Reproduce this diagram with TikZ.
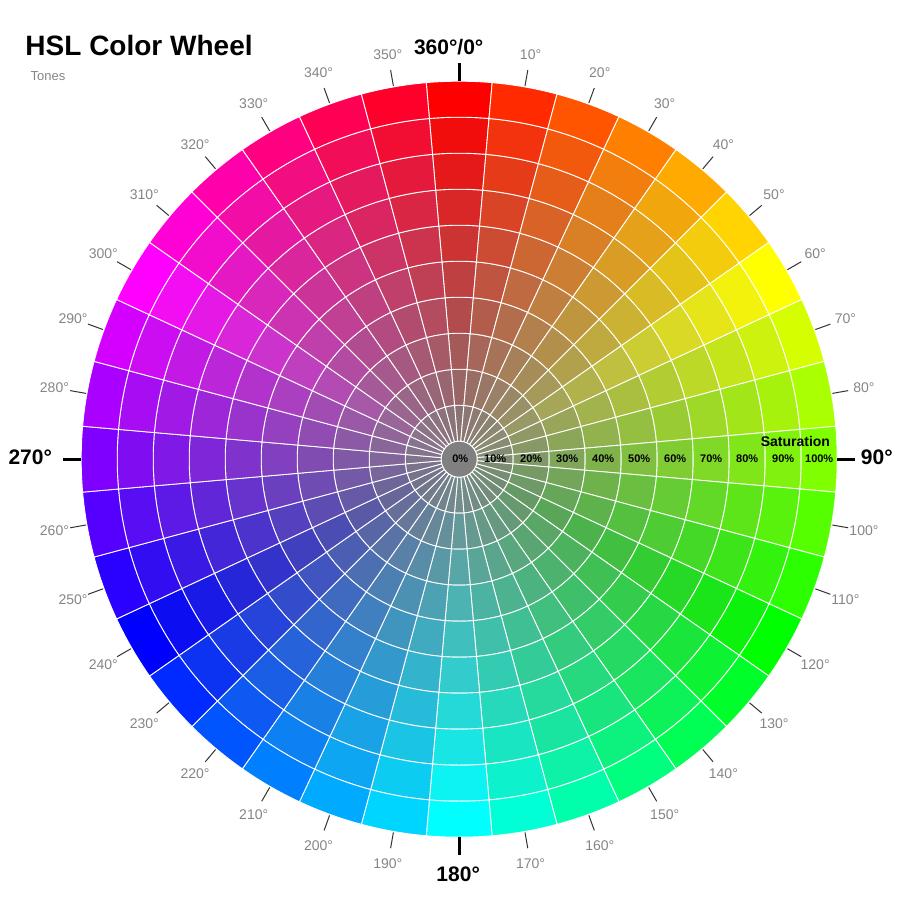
\documentclass[tikz,border=0pt]{standalone}
\usepackage{fontspec}
\setmainfont{Liberation Sans}
\usetikzlibrary{positioning}

\definecolor{labelgray}{HTML}{858585}
\definecolor{tickgray}{HTML}{333333}

\begin{document}
\begin{tikzpicture}[
  x=1pt, y=1pt,
  cell/.style={draw=white, line width=0.9pt},
  tickmark/.style={draw=tickgray, line width=1pt},
  bigtick/.style={draw=black, line width=3pt},
  deg/.style={inner sep=0pt, text=labelgray, font=\fontsize{14}{14}\selectfont},
  maindeg/.style={inner sep=0pt, font=\fontsize{21}{21}\selectfont\bfseries},
  pct/.style={inner sep=0pt, font=\fontsize{11}{11}\selectfont\bfseries},
]
  \useasboundingbox (-459.2,-443.8) rectangle (455.8,459.2);

  % sectors: hue clockwise from the top, saturation outwards
  \foreach \h in {0,10,...,350}{
    \pgfmathsetmacro\hh{\h/360}
    \pgfmathsetmacro\a{90-\h}
    \definecolor{huefull}{hsb}{\hh,1,1}
    \colorlet{huergb}[rgb]{huefull}
    \foreach \k in {1,...,10}{
      \pgfmathsetmacro\ri{18+36*(\k-1)}
      \pgfmathsetmacro\ro{18+36*\k}
      \pgfmathtruncatemacro\s{10*\k}
      \filldraw[cell, fill=huergb!\s!gray]
        ({\a-5}:\ri) arc[start angle={\a-5}, end angle={\a+5}, radius=\ri]
        -- ({\a+5}:\ro) arc[start angle={\a+5}, end angle={\a-5}, radius=\ro]
        -- cycle;
    }
  }
  \filldraw[cell, fill=gray] (0,0) circle[radius=18];

  % ticks and hue labels
  \foreach \h in {10,20,...,80,100,110,...,170,190,200,...,260,280,290,...,350}{
    \pgfmathsetmacro\a{90-\h}
    \coordinate (ti\h) at (\a:379);
    \coordinate (to\h) at (\a:395);
    \draw[tickmark] (ti\h) -- (to\h);
    \node[deg] (d\h) at (\a:411) {\h°};
  }
  \foreach \h in {0,90,180,270}{
    \pgfmathsetmacro\a{90-\h}
    \coordinate (ti\h) at (\a:378);
    \coordinate (to\h) at (\a:396);
    \draw[bigtick] (ti\h) -- (to\h);
  }
  \node[maindeg, anchor=south] (d0) at (-10.5,404) {360°/0°};
  \node[maindeg, anchor=west] (d90) at (401.5,2) {90°};
  \node[maindeg, anchor=north] (d180) at (-1,-407.5) {180°};
  \node[maindeg, anchor=east] (d270) at (-407,2) {270°};

  % saturation labels
  \node[pct] (p0) at (1,0) {0\%};
  \foreach \k in {1,...,10}{
    \pgfmathtruncatemacro\s{10*\k}
    \node[pct] (p\k) at (36*\k,0) {\s\%};
  }
  \node[inner sep=0pt, anchor=base east, font=\fontsize{14}{14}\selectfont\bfseries]
    (sat) at (371,12.5) {Saturation};

  % title
  \node[inner sep=0pt, anchor=base west, font=\fontsize{28}{28}\selectfont\bfseries]
    (title) at (-433.9,403.2) {HSL Color Wheel};
  \node[inner sep=0pt, anchor=base west, text=labelgray, font=\fontsize{13}{13}\selectfont]
    (tones) at (-428.8,378.5) {Tones};
\end{tikzpicture}
\end{document}
